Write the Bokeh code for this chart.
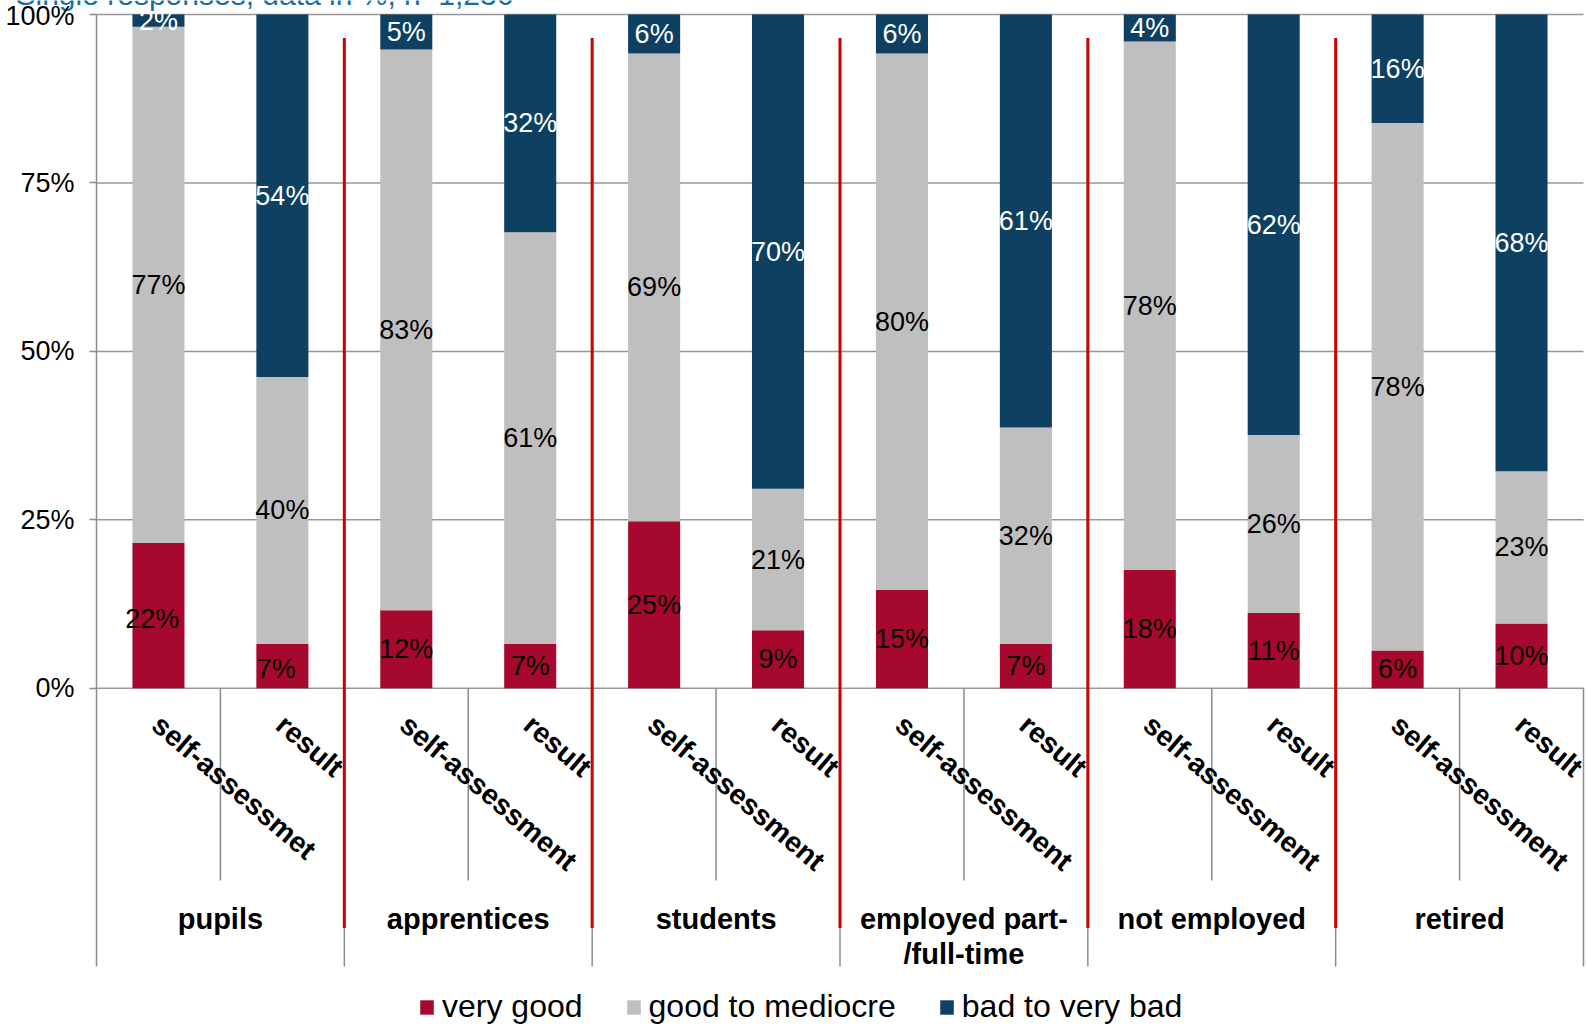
import math
from bokeh.plotting import figure
from bokeh.models import (ColumnDataSource, Range1d, FixedTicker, Legend, LegendItem)
from bokeh.core.properties import value
from bokeh.embed import file_html
from bokeh.resources import INLINE

# ---------------- data ----------------
groups = ["pupils", "apprentices", "students", "employed part-\n/full-time", "not employed", "retired"]
sub_labels = ["self-assessmet", "result",
              "self-assessment", "result",
              "self-assessment", "result",
              "self-assessment", "result",
              "self-assessment", "result",
              "self-assessment", "result"]
very_good = [21.6, 6.6, 11.6, 6.6, 24.8, 8.6, 14.6, 6.6, 17.6, 11.2, 5.6, 9.6]
good_to_mediocre = [76.6, 39.6, 83.2, 61.1, 69.4, 21.0, 79.6, 32.1, 78.4, 26.4, 78.3, 22.6]
bad_to_very_bad = [1.8, 53.8, 5.2, 32.3, 5.8, 70.4, 5.8, 61.3, 4.0, 62.4, 16.1, 67.8]
series_names = ["very good", "good to mediocre", "bad to very bad"]
tick_values = [0, 25, 50, 75, 100]
tick_labels = ["0%", "25%", "50%", "75%", "100%"]
subtitle = "Single responses, data in %, n=1,236"

# ---------------- style ----------------
colors = ["#A6092D", "#C0BFC0", "#0D4061"]
label_colors = ["black", "black", "white"]
FONT = "Liberation Sans"
W, H = 1586, 1025
AX_LEFT_PX, AX_RIGHT_PX = 96, 1583
Y0_PX = 687.8
PX_PER_UNIT = 6.738
YMAX = Y0_PX / PX_PER_UNIT
YMIN = YMAX - H / PX_PER_UNIT

n = len(sub_labels)
XU = (AX_RIGHT_PX - AX_LEFT_PX) / float(n)
XMIN = -AX_LEFT_PX / XU
XMAX = n + (W - AX_RIGHT_PX) / XU


def ydata(py):
    return (Y0_PX - py) / PX_PER_UNIT


def xdata(px):
    return (px - AX_LEFT_PX) / XU


xs = [i + 0.5 for i in range(n)]

p = figure(width=W, height=H, output_backend="svg", toolbar_location=None,
           x_range=Range1d(XMIN, XMAX), y_range=Range1d(YMIN, YMAX),
           x_axis_location=None, min_border_left=0, min_border_right=0,
           min_border_top=0, min_border_bottom=0)
p.outline_line_color = None
p.background_fill_color = "white"
p.border_fill_color = "white"

# y axis, drawn at x = 0 inside the frame
p.yaxis.fixed_location = 0
p.yaxis.ticker = FixedTicker(ticks=tick_values)
p.yaxis.major_label_overrides = dict(zip(tick_values, tick_labels))
p.yaxis.axis_line_color = None
p.yaxis.major_tick_line_color = "#8C8C8C"
p.yaxis.major_tick_line_width = 1.5
p.yaxis.major_tick_out = 7
p.yaxis.major_tick_in = 0
p.yaxis.minor_tick_line_color = None
p.yaxis.major_label_text_font = FONT
p.yaxis.major_label_text_font_size = "27px"
p.yaxis.major_label_text_color = "black"
p.yaxis.major_label_standoff = 15

p.xgrid.visible = False
p.ygrid.visible = False

# horizontal gridlines across the category area
p.segment(x0=[0] * len(tick_values), y0=tick_values, x1=[n] * len(tick_values), y1=tick_values,
          line_color="#979797", line_width=1.5, level="underlay")

# bars
src = ColumnDataSource(dict(x=xs, **{series_names[0]: very_good,
                                      series_names[1]: good_to_mediocre,
                                      series_names[2]: bad_to_very_bad}))
rends = p.vbar_stack(series_names, x="x", width=0.42, color=colors, line_color=None, source=src)

# data labels
lx, ly, lt, lc = [], [], [], []
series = [very_good, good_to_mediocre, bad_to_very_bad]
for i in range(n):
    bottom = 0.0
    for k, vals in enumerate(series):
        v = vals[i]
        cy = bottom + v / 2.0
        cx = xs[i]
        if k == 0 and i < 2:
            cx -= 0.05
            cy -= 0.5
        lx.append(cx)
        ly.append(cy)
        lt.append(f"{round(v)}%")
        lc.append(label_colors[k])
        bottom += v
p.text(x=lx, y=ly, text=lt, text_color=lc, text_align="center", text_baseline="middle",
       text_font=value(FONT), text_font_size="27px")

# axis-area lines
gray = "#8C8C8C"
seg_x0, seg_y0, seg_y1 = [0], [100], [ydata(966)]
for b in range(2, n + 1, 2):
    seg_x0.append(b); seg_y0.append(0); seg_y1.append(ydata(966))
for b in range(1, n, 2):
    seg_x0.append(b); seg_y0.append(0); seg_y1.append(ydata(880))
p.segment(x0=seg_x0, y0=seg_y0, x1=seg_x0, y1=seg_y1, line_color=gray, line_width=1.5)

# red group separators
red_x = list(range(2, n, 2))
p.segment(x0=red_x, y0=[96.5] * len(red_x), x1=red_x, y1=[ydata(927.5)] * len(red_x),
          line_color="#CC0000", line_width=3)

# rotated sub labels
p.text(x=[x - 0.015 for x in xs], y=[ydata(720)] * n, text=sub_labels, angle=math.radians(-40.5),
       text_align="left", text_baseline="middle", text_font=value(FONT),
       text_font_size="28.5px", text_font_style="bold", text_color="black")

# group labels
p.text(x=[2 * g + 1 for g in range(len(groups))], y=[ydata(902)] * len(groups), text=groups,
       text_align="center", text_baseline="top", text_font=value(FONT), text_font_size="29px",
       text_font_style="bold", text_color="black", text_line_height=1.1)

# subtitle (cut off at the top edge, as in reference)
p.text(x=[xdata(15)], y=[ydata(-6)], text=[subtitle], text_baseline="alphabetic",
       text_align="left", text_font=value(FONT), text_font_size="30px", text_color="#1A6CA6")

# legend
legend = Legend(items=[LegendItem(label=name, renderers=[r]) for name, r in zip(series_names, rends)],
                orientation="horizontal", location=(418, 0), glyph_width=17, glyph_height=18,
                label_standoff=7, spacing=42, padding=0, margin=0, border_line_color=None,
                background_fill_alpha=0, label_text_font=FONT, label_text_font_size="32px",
                label_text_color="black")
p.add_layout(legend)

open("out.html", "w").write(file_html(p, INLINE))
